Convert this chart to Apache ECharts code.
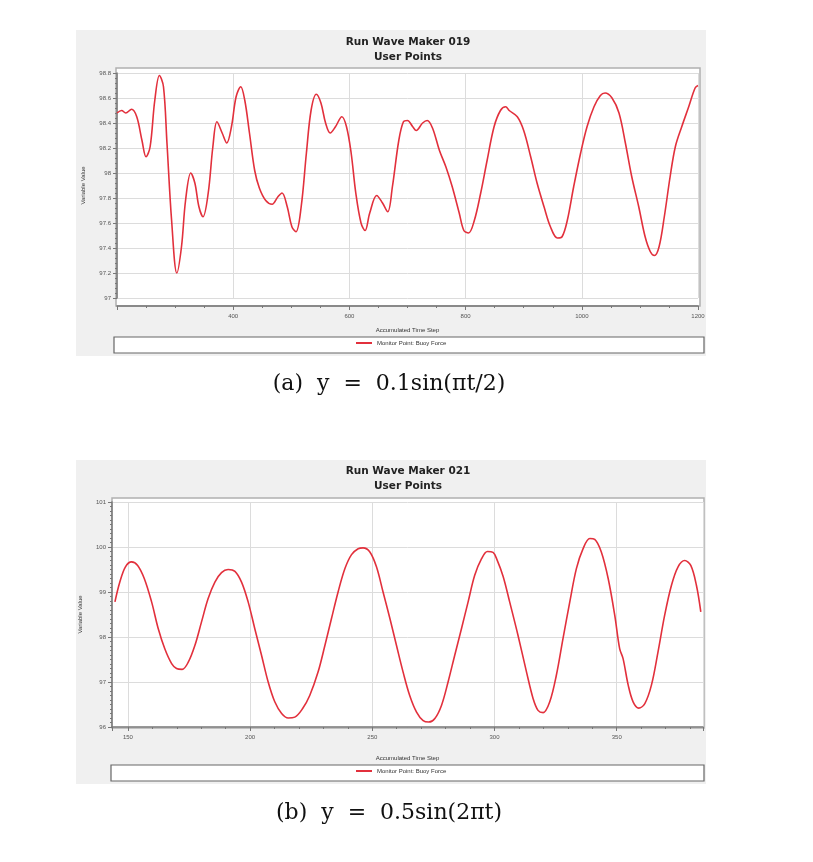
<!DOCTYPE html>
<html>
<head>
<meta charset="utf-8">
<script src="https://cdn.jsdelivr.net/npm/echarts@6/dist/echarts.min.js"></script>
<style>html,body{margin:0;padding:0;background:#fff;}#c{width:813px;height:862px;}</style>
</head>
<body>
<div id="c"></div>
<script>
// ---- Chart (a): Run Wave Maker 019 ----
const titleA = 'Run Wave Maker 019';
const subTitleA = 'User Points';
const captionA = '(a)  y  =  0.1sin(\u03c0t/2)';
const timeA = [200,208,215,225,234,243,250,257,265,273,280,286,294,303,311,318,327,334,341,348,357,365,372,381,389,397,405,413,420,428,437,445,456,467,477,484,493,501,508,517,526,534,543,551,559,567,576,587,595,603,611,620,627,635,647,657,666,674,685,693,700,709,715,726,734,743,755,766,777,789,797,805,815,826,837,849,860,869,875,889,900,912,923,935,946,958,966,975,986,998,1009,1021,1032,1040,1052,1064,1075,1086,1098,1109,1118,1125,1133,1142,1152,1161,1172,1184,1195,1200];
const valueA = [98.48,98.50,98.48,98.51,98.45,98.26,98.13,98.21,98.58,98.78,98.69,98.24,97.62,97.20,97.41,97.78,98.00,97.92,97.73,97.65,97.84,98.21,98.41,98.32,98.24,98.37,98.61,98.69,98.58,98.32,98.02,97.88,97.78,97.75,97.81,97.84,97.73,97.57,97.53,97.73,98.16,98.50,98.63,98.56,98.40,98.32,98.37,98.45,98.37,98.16,97.84,97.60,97.54,97.68,97.82,97.76,97.69,97.89,98.26,98.41,98.42,98.37,98.34,98.40,98.42,98.36,98.18,98.05,97.89,97.68,97.54,97.52,97.62,97.84,98.10,98.37,98.50,98.53,98.50,98.45,98.34,98.13,97.92,97.73,97.57,97.48,97.49,97.62,97.89,98.16,98.37,98.53,98.62,98.64,98.60,98.48,98.24,97.97,97.73,97.49,97.37,97.34,97.41,97.65,97.97,98.21,98.37,98.53,98.68,98.70];
const xTicksA = [400,600,800,1000,1200];
const yTicksA = [97,97.2,97.4,97.6,97.8,98,98.2,98.4,98.6,98.8];

// ---- Chart (b): Run Wave Maker 021 ----
const titleB = 'Run Wave Maker 021';
const subTitleB = 'User Points';
const captionB = '(b)  y  =  0.5sin(2\u03c0t)';
const timeB = [144.7,146.7,149,151.5,154,156.7,159.7,162.4,165.1,167.9,169.9,172.2,174.7,177.4,180.1,182.8,185.6,188.3,191,193.8,196.5,199.2,201.9,204.7,207.4,210.1,212.9,215.6,218.3,221.5,224.4,227.8,230.6,233.3,236,238.8,241.5,244.2,246.2,249,251.7,254.4,257.2,259.9,262.6,265.3,268.1,270.8,273.1,275.6,278.3,281,283.7,286.5,289.2,291.9,294.7,297.1,299.4,301,303.5,306.2,309.6,313.1,315.8,317.8,319.9,322.6,325.3,328,330.8,333.5,336.2,339,341,343.7,346.5,349.2,351.2,352.6,354.7,356.7,359,361.5,364.2,366.9,369.6,372.4,375.1,377.8,380.3,382.6,384.4];
const valueB = [98.78,99.22,99.56,99.67,99.59,99.30,98.78,98.19,97.74,97.41,97.30,97.28,97.44,97.81,98.33,98.85,99.22,99.43,99.50,99.46,99.22,98.78,98.19,97.59,97.00,96.56,96.30,96.20,96.22,96.41,96.70,97.22,97.81,98.41,99.00,99.52,99.83,99.96,99.98,99.89,99.56,99.00,98.41,97.81,97.22,96.70,96.33,96.14,96.11,96.19,96.48,97.00,97.59,98.19,98.78,99.37,99.74,99.90,99.88,99.72,99.35,98.78,98.04,97.22,96.63,96.37,96.32,96.56,97.15,97.96,98.78,99.52,99.96,100.19,100.17,99.89,99.30,98.48,97.74,97.52,96.93,96.56,96.42,96.52,96.93,97.67,98.48,99.15,99.56,99.70,99.59,99.15,98.56];
const xTicksB = [150,200,250,300,350];
const yTicksB = [96,97,98,99,100,101];

const seriesName = 'Monitor Point: Buoy Force';
const xName = 'Accumulated Time Step';
const yName = 'Variable Value';

const chart = echarts.init(document.getElementById('c'), null, {renderer: 'canvas'});
const lineColor = '#e2303c';
const axisCol = '#777';
const labCol = '#555';
const gridCol = '#dcdcdc';
const smallFont = 'Liberation Sans';

function xAxisBase(gridIndex, min, max, interval, minorSplit, offset, nameGap, ticks) {
  return {
    type: 'value', gridIndex, min, max, interval, offset,
    name: xName, nameLocation: 'middle', nameGap,
    nameTextStyle: {fontSize: 6, color: '#333', fontFamily: smallFont},
    axisLine: {show: true, lineStyle: {color: axisCol, width: 1.5}},
    axisTick: {show: true, length: 4, lineStyle: {color: axisCol}},
    minorTick: {show: true, splitNumber: minorSplit, length: 2, lineStyle: {color: axisCol}},
    axisLabel: {fontSize: 6, color: labCol, fontFamily: smallFont, margin: 7,
      formatter: v => ticks.some(t => Math.abs(t - v) < 1e-6) ? String(v) : '',
      showMinLabel: true, showMaxLabel: true},
    splitLine: {show: true, lineStyle: {color: gridCol, width: 1}}
  };
}
function yAxisBase(gridIndex, min, max, interval, minorSplit, nameGap, ticks) {
  return {
    type: 'value', gridIndex, min, max, interval,
    name: yName, nameLocation: 'middle', nameGap, nameRotate: 90,
    nameTextStyle: {fontSize: 6, color: '#333', fontFamily: smallFont},
    axisLine: {show: true, lineStyle: {color: axisCol, width: 1.5}},
    axisTick: {show: true, length: 4, lineStyle: {color: axisCol}},
    minorTick: {show: true, splitNumber: minorSplit, length: 2, lineStyle: {color: axisCol}},
    axisLabel: {fontSize: 6, color: labCol, fontFamily: smallFont, margin: 6,
      formatter: v => { const t = ticks.find(t => Math.abs(t - v) < 1e-6); return t === undefined ? '' : String(t); }},
    splitLine: {show: true, lineStyle: {color: gridCol, width: 1}}
  };
}

const titleStyle = {fontSize: 10.5, fontWeight: 'bold', color: '#222', fontFamily: 'DejaVu Sans', lineHeight: 15};

const option = {
  animation: false,
  backgroundColor: '#ffffff',
  title: [
    {text: titleA + '\n' + subTitleA, left: 403, top: 30, textAlign: 'center', textStyle: titleStyle},
    {text: titleB + '\n' + subTitleB, left: 403, top: 459, textAlign: 'center', textStyle: titleStyle}
  ],
  graphic: [
    {type: 'rect', z: -20, shape: {x: 76, y: 30, width: 630, height: 326}, style: {fill: '#f0f0f0'}},
    {type: 'rect', z: -19, shape: {x: 116, y: 68, width: 584, height: 238}, style: {fill: '#fff', stroke: '#b0b0b0', lineWidth: 1.5}},
    {type: 'rect', z: -19, shape: {x: 114, y: 337, width: 590, height: 16}, style: {fill: '#fff', stroke: '#666', lineWidth: 1.2}},
    {type: 'rect', z: -20, shape: {x: 76, y: 460, width: 630, height: 324}, style: {fill: '#f0f0f0'}},
    {type: 'rect', z: -19, shape: {x: 112, y: 498, width: 592, height: 230}, style: {fill: '#fff', stroke: '#b0b0b0', lineWidth: 1.5}},
    {type: 'rect', z: -19, shape: {x: 111, y: 765, width: 593, height: 16}, style: {fill: '#fff', stroke: '#666', lineWidth: 1.2}},
    {type: 'text', x: 389, y: 384, style: {text: captionA, font: '22px "DejaVu Serif"', fill: '#111', textAlign: 'center', textVerticalAlign: 'middle'}},
    {type: 'text', x: 389, y: 813, style: {text: captionB, font: '22px "DejaVu Serif"', fill: '#111', textAlign: 'center', textVerticalAlign: 'middle'}}
  ],
  legend: [
    {data: [seriesName], left: 356, top: 340, itemWidth: 16, itemHeight: 2, icon: 'rect', padding: 0, selectedMode: false,
     textStyle: {fontSize: 6, color: '#333', fontFamily: smallFont}},
    {data: [seriesName], left: 356, top: 768, itemWidth: 16, itemHeight: 2, icon: 'rect', padding: 0, selectedMode: false,
     textStyle: {fontSize: 6, color: '#333', fontFamily: smallFont}}
  ],
  grid: [
    {left: 117, right: 115, top: 73, bottom: 862 - 298, containLabel: false},
    {left: 112, right: 110, top: 502, bottom: 862 - 727, containLabel: false}
  ],
  xAxis: [
    xAxisBase(0, 200, 1200, 200, 4, 8, 21, xTicksA),
    xAxisBase(1, 143.5, 385.3, null, 5, 0, 28, xTicksB)
  ],
  yAxis: [
    yAxisBase(0, 97, 98.8, 0.2, 5, 31, yTicksA),
    yAxisBase(1, 96, 101, 1, 10, 29, yTicksB)
  ],
  series: [
    {type: 'line', name: seriesName, xAxisIndex: 0, yAxisIndex: 0, showSymbol: false, symbol: 'none', smooth: 0.35,
     lineStyle: {color: lineColor, width: 1.6}, itemStyle: {color: lineColor},
     data: timeA.map((t, i) => [t, valueA[i]])},
    {type: 'line', name: seriesName, xAxisIndex: 1, yAxisIndex: 1, showSymbol: false, symbol: 'none', smooth: 0.35,
     lineStyle: {color: lineColor, width: 1.6}, itemStyle: {color: lineColor},
     data: timeB.map((t, i) => [t, valueB[i]])}
  ]
};
chart.setOption(option);
</script>
</body>
</html>
